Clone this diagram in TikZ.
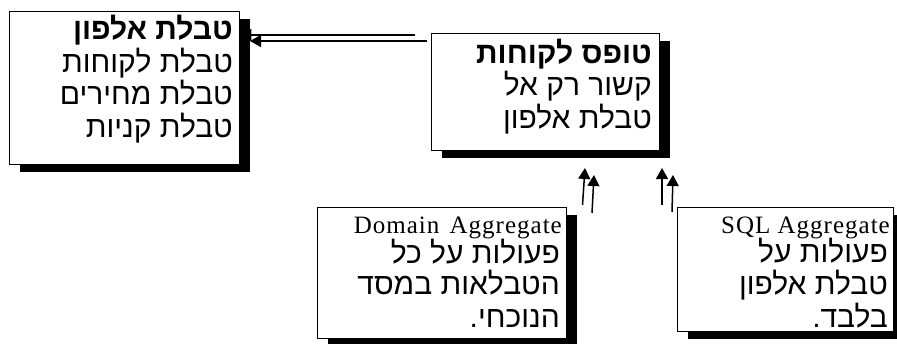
\documentclass[tikz,border=0pt]{standalone}
\usepackage{fontspec}
\setmainfont{Liberation Serif}
\newfontfamily\heb[Script=Hebrew]{Liberation Sans}
\newfontfamily\lat[LetterSpace=4]{Liberation Serif}
\TeXXeTstate=1
\usetikzlibrary{shadows,arrows.meta}
\tikzset{
  box/.style={draw=black, line width=1.3pt, fill=white, inner sep=0pt, anchor=north west,
    general shadow={fill=black, shadow xshift=10pt, shadow yshift=-7pt}},
  hline/.style={font=\heb\fontsize{30}{32}\selectfont, inner sep=0pt, anchor=base east},
  lline/.style={font=\lat\fontsize{25}{28}\selectfont, inner sep=0pt, anchor=base east},
  arr/.style={line width=1.5pt, -{Triangle[length=11pt,width=12pt]}}
}
\begin{document}
\begin{tikzpicture}[x=1pt,y=-1pt]
\useasboundingbox (0,0) rectangle (897,343);
% boxes
\node[box, minimum width=230pt, minimum height=153pt] (alef) at (9,11) {};
\node[box, minimum width=228pt, minimum height=117pt] (form) at (431,33) {};
\node[box, minimum width=249pt, minimum height=131pt] (dom) at (317,207) {};
\node[box, minimum width=216pt, minimum height=124pt] (sql) at (677,207) {};
% texts
\node[hline] (a1) at (233,39) {\bfseries\beginR טבלת אלפון\endR};
\node[hline] (a2) at (233,72) {\beginR טבלת לקוחות\endR};
\node[hline] (a3) at (233,104) {\beginR טבלת מחירים\endR};
\node[hline] (a4) at (233,137) {\beginR טבלת קניות\endR};
\node[hline] (f1) at (652,63) {\bfseries\beginR טופס לקוחות\endR};
\node[hline] (f2) at (652,95) {\beginR קשור רק אל\endR};
\node[hline] (f3) at (652,128) {\beginR טבלת אלפון\endR};
\node[lline] (d0) at (562,233) {Domain\hspace{3pt} Aggregate};
\node[hline] (d1) at (560,263) {\beginR פעולות על כל\endR};
\node[hline] (d2) at (560,294) {\beginR הטבלאות במסד\endR};
\node[hline] (d3) at (560,327) {\beginR הנוכחי.\endR};
\node[lline] (s0) at (890,233) {SQL Aggregate};
\node[hline] (s1) at (888,262) {\beginR פעולות על\endR};
\node[hline] (s2) at (888,294) {\beginR טבלת אלפון\endR};
\node[hline] (s3) at (888,327) {\beginR בלבד.\endR};
% connector ends
\coordinate (h1) at (415,35);
\coordinate (h2) at (250,41);
\coordinate (v1) at (582.5,205);
\coordinate (v1t) at (585,168);
\coordinate (v2) at (592,213);
\coordinate (v2t) at (594,175);
\coordinate (v3) at (662,205);
\coordinate (v3t) at (662,168);
\coordinate (v4) at (672,212);
\coordinate (v4t) at (673,175);
% connectors
\draw[arr] (h1) -- (h1 -| alef.east);
\draw[arr] ([xshift=-4pt]form.west |- h2) -- (h2);
\draw[arr] (v1) -- (v1t);
\draw[arr] (v2) -- (v2t);
\draw[arr] (v3) -- (v3t);
\draw[arr] (v4) -- (v4t);
\end{tikzpicture}
\end{document}
